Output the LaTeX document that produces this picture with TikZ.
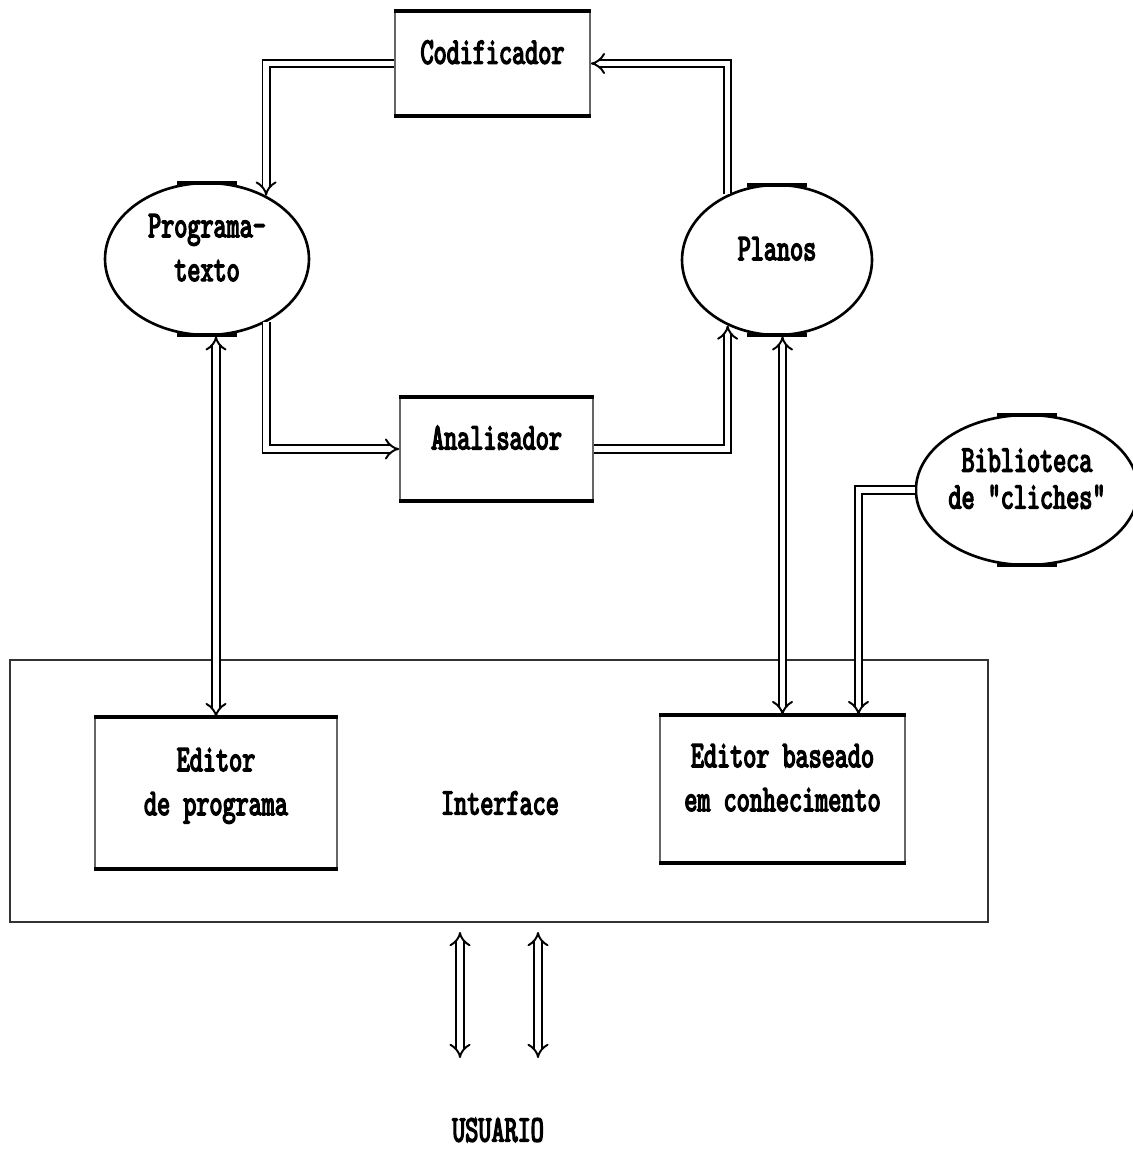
\documentclass[tikz,border=0pt]{standalone}
\usepackage{fontspec}
\newfontfamily\dfont{lmmono10-regular.otf}[FakeStretch=0.66,FakeBold=3.5]
\usetikzlibrary{arrows.meta,shapes.geometric,calc}
\begin{document}
\begin{tikzpicture}[x=0.02cm,y=-0.02cm,
  lbl/.style={font=\dfont\fontsize{21.5}{25}\selectfont, align=center},
  boxnode/.style={rectangle, draw=black!60, line width=1pt, inner sep=0pt, lbl, text depth=13pt},
  blob/.style={ellipse, draw=black, line width=1.5pt, inner sep=0pt, lbl, text depth=13pt},
  edgebar/.style={line width=2.6pt, line cap=butt},
  flat/.style={line width=2.4pt, line cap=butt},
  dbl/.style={double=white, draw=black, line width=1.1pt, double distance=3pt},
  onehead/.style={dbl, -{Implies}},
  twohead/.style={dbl, {Implies}-{Implies}}
]
\useasboundingbox (0,0) rectangle (1132,1162);

% outer interface frame
\node[rectangle, draw=black!80, line width=0.8pt, minimum width=19.56cm,
      minimum height=5.24cm, inner sep=0pt] (iface) at (499,791) {};
\node[lbl] (ifl) at (500,803) {Interface};

% processing boxes
\node[boxnode, minimum width=3.90cm, minimum height=2.06cm] (cod) at (492.5,63.5) {Codificador};
\node[boxnode, minimum width=3.86cm, minimum height=2.04cm] (ana) at (496.5,449) {Analisador};
\node[boxnode, minimum width=4.84cm, minimum height=3.00cm] (edp) at (216,793) {Editor\\de programa};
\node[boxnode, minimum width=4.90cm, minimum height=2.92cm] (edb) at (782.5,789) {Editor baseado\\em conhecimento};

\foreach \n in {cod,ana,edp,edb}{
  \draw[edgebar] (\n.north west) -- (\n.north east);
  \draw[edgebar] (\n.south west) -- (\n.south east);
}

% data stores
\node[blob, minimum width=4.08cm, minimum height=3.04cm] (prog) at (207,259) {Programa-\\texto};
\node[blob, minimum width=3.80cm, minimum height=3.00cm] (plan) at (777,260) {Planos};
\node[blob, minimum width=3.92cm, minimum height=3.00cm] (bib) at (1027,490) {Biblioteca\\[-4pt]de "cliches"};

% heavier flat stretch at top and bottom of each store
\foreach \n in {prog,plan,bib}{
  \draw[flat] ([xshift=-0.6cm,yshift=-0.6pt]\n.north) -- ([xshift=0.6cm,yshift=-0.6pt]\n.north);
  \draw[flat] ([xshift=-0.6cm,yshift=0.6pt]\n.south) -- ([xshift=0.6cm,yshift=0.6pt]\n.south);
}

% flows
\draw[onehead] (cod.west) -| (prog.47);
\draw[onehead] (plan.127) |- (cod.east);
\draw[onehead] (prog.-47) |- (ana.west);
\draw[onehead] (ana.east) -| (plan.233);
\draw[twohead] (prog.south -| edp.north) -- (edp.north);
\draw[twohead] (plan.south -| edb.north) -- (edb.north);
\coordinate (bibin) at ($(edb.north west)!0.808!(edb.north east)$);
\draw[onehead] (bib.west) -| (bibin);

% user link
\coordinate (ua1) at (460,932);
\coordinate (ub1) at (460,1058);
\coordinate (ua2) at (538,932);
\coordinate (ub2) at (538,1058);
\draw[twohead] (ua1) -- (ub1);
\draw[twohead] (ua2) -- (ub2);
\node[lbl] (usr) at (498,1130) {USUARIO};
\end{tikzpicture}
\end{document}
